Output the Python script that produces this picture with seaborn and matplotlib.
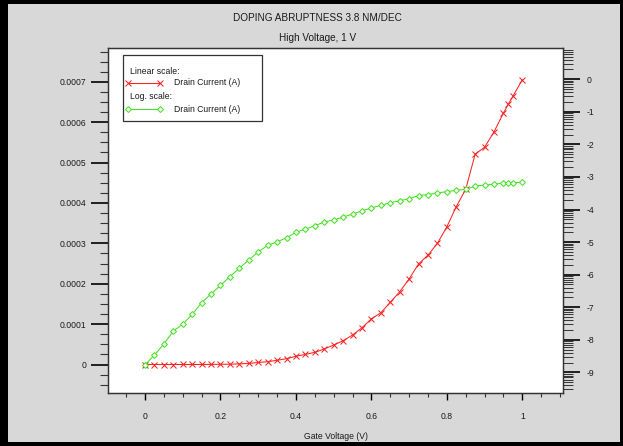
import numpy as np
import matplotlib
matplotlib.use("Agg")
import matplotlib.pyplot as plt
import matplotlib.ticker as mticker
from matplotlib.patches import Rectangle
from matplotlib.lines import Line2D
import seaborn as sns

# ---------------- data ----------------
title_1 = "DOPING ABRUPTNESS 3.8 NM/DEC"
title_2 = "High Voltage, 1 V"
x_label = "Gate Voltage (V)"
series_name = "Drain Current (A)"
linear_header = "Linear scale:"
log_header = "Log. scale:"

gate_v = [0, 0.025, 0.05, 0.075, 0.1, 0.125, 0.15, 0.175, 0.2, 0.225,
          0.25, 0.275, 0.3, 0.325, 0.35, 0.375, 0.4, 0.425, 0.45, 0.475,
          0.5, 0.525, 0.55, 0.575, 0.6, 0.625, 0.65, 0.675, 0.7, 0.725,
          0.75, 0.775, 0.8, 0.825, 0.85, 0.875, 0.9, 0.925, 0.95, 0.9625,
          0.975, 1.0]

# drain current, linear scale (A)
drain_linear = [1.7e-9, 3.4e-9, 7.4e-9, 1.9e-8, 3.0e-8, 6.0e-8, 1.4e-7, 2.6e-7, 4.7e-7, 8.7e-7,
                1.6e-6, 2.8e-6, 5.0e-6, 7.0e-6, 1.04e-5, 1.45e-5, 2.05e-5, 2.5e-5, 3.02e-5, 3.84e-5,
                4.83e-5, 5.89e-5, 7.3e-5, 9.11e-5, 1.13e-4, 1.28e-4, 1.54e-4, 1.80e-4, 2.12e-4, 2.49e-4,
                2.71e-4, 3.00e-4, 3.41e-4, 3.91e-4, 4.34e-4, 5.21e-4, 5.38e-4, 5.76e-4, 6.23e-4, 6.44e-4,
                6.64e-4, 7.05e-4]

# drain current, log scale (decade exponent, log10 A)
drain_log10 = [-8.77, -8.47, -8.13, -7.73, -7.52, -7.22, -6.86, -6.59, -6.33, -6.06,
               -5.80, -5.55, -5.30, -5.10, -4.99, -4.87, -4.70, -4.60, -4.50, -4.38,
               -4.32, -4.23, -4.14, -4.04, -3.95, -3.87, -3.79, -3.73, -3.67, -3.57,
               -3.54, -3.49, -3.45, -3.41, -3.38, -3.28, -3.25, -3.22, -3.19, -3.18,
               -3.18, -3.16]

x_ticks = [0, 0.2, 0.4, 0.6, 0.8, 1.0]
left_ticks = [0, 0.0001, 0.0002, 0.0003, 0.0004, 0.0005, 0.0006, 0.0007]
right_ticks = [0, -1, -2, -3, -4, -5, -6, -7, -8, -9]

# ---------------- style ----------------
sns.set_theme(style="white")
plt.rcParams["font.family"] = ["Liberation Sans", "DejaVu Sans"]
TEXT = "#1a1a1a"
RED = "#f52525"
GREEN = "#45e025"
BG = "#d8d8d8"

W, H = 623, 446
fig = plt.figure(figsize=(W / 100, H / 100), dpi=100)
fig.patch.set_facecolor("black")
fig.patches.append(Rectangle((8 / W, 4.3 / H), (619.5 - 8) / W, (441.7 - 4) / H,
                             transform=fig.transFigure, facecolor=BG, edgecolor="none", zorder=-10))

ax_l, ax_r, ax_t, ax_b = 108.3, 562.7, 48.3, 392.7
ax = fig.add_axes([ax_l / W, 1 - ax_b / H, (ax_r - ax_l) / W, (ax_b - ax_t) / H])
ax.set_facecolor("white")
ax2 = ax.twinx()

sns.lineplot(x=gate_v, y=drain_linear, ax=ax, color=RED, linewidth=0.75,
             marker="x", markersize=4.5, markeredgewidth=0.75, markeredgecolor=RED,
             estimator=None, sort=False, legend=False)
sns.lineplot(x=gate_v, y=[10.0 ** v for v in drain_log10], ax=ax2, color=GREEN, linewidth=0.75,
             marker="D", markersize=3.0, markeredgewidth=0.75, markeredgecolor=GREEN,
             markerfacecolor="white", estimator=None, sort=False, legend=False)

# x axis
ax.set_xlim(-0.0973, 1.107)
ax.set_xticks(x_ticks)
ax.xaxis.set_minor_locator(mticker.MultipleLocator(0.05))
ax.xaxis.set_major_formatter(mticker.FuncFormatter(lambda v, p: f"{v:g}"))
ax.tick_params(axis="x", which="major", direction="out", length=5, width=1, color="black",
               labelsize=6.2, labelcolor=TEXT, pad=9, bottom=True, top=False)
ax.tick_params(axis="x", which="minor", direction="out", length=3, width=0.8, color="#333333",
               bottom=True, top=False)
ax.set_xlabel(x_label, fontsize=6.2, color=TEXT, labelpad=8)

# left axis
ax.set_ylim(-0.0000698, 0.000783)
ax.set_yticks(left_ticks)
ax.yaxis.set_minor_locator(mticker.MultipleLocator(0.000025))
ax.yaxis.set_major_formatter(mticker.FuncFormatter(lambda v, p: "0" if abs(v) < 1e-12 else f"{v:.4f}"))
ax.tick_params(axis="y", which="major", direction="out", length=12, width=1.2, color="black",
               labelsize=6.2, labelcolor=TEXT, pad=4, left=True, right=False)
ax.tick_params(axis="y", which="minor", direction="out", length=6, width=0.8, color="#333333",
               left=True, right=False)
ax.set_ylabel("")

# right axis (log)
ax2.set_yscale("log")
ax2.set_ylim(10 ** -9.625, 10 ** 0.952)
ax2.yaxis.set_major_locator(mticker.FixedLocator([10.0 ** e for e in right_ticks]))
ax2.yaxis.set_major_formatter(mticker.FuncFormatter(lambda v, p: f"{int(round(np.log10(v)))}"))
ax2.yaxis.set_minor_locator(mticker.LogLocator(base=10, subs=np.arange(2, 10), numticks=100))
ax2.yaxis.set_minor_formatter(mticker.NullFormatter())
ax2.tick_params(axis="y", which="major", direction="out", length=12, width=1.2, color="black",
                labelsize=6.2, labelcolor=TEXT, pad=5, right=True, left=False)
ax2.tick_params(axis="y", which="minor", direction="out", length=7, width=0.7, color="#333333",
                right=True, left=False)
ax2.set_ylabel("")
ax2.grid(False)
ax.grid(False)

for a in (ax, ax2):
    for s in a.spines.values():
        s.set_color("#333333")
        s.set_linewidth(0.9)

# legend box (drawn in axes coordinates)
def fy(py):
    return 1 - (py - ax_t) / (ax_b - ax_t)
def fx(px):
    return (px - ax_l) / (ax_r - ax_l)

ax2.add_patch(Rectangle((fx(123.3), fy(120.7)), fx(261.7) - fx(123.3), fy(55) - fy(120.7),
                        transform=ax2.transAxes, facecolor="white", edgecolor="#333333",
                        linewidth=0.9, zorder=5))
ax2.text(fx(130), fy(71), linear_header, transform=ax2.transAxes, fontsize=6.2, color=TEXT,
         va="center", ha="left", zorder=6)
ax2.add_line(Line2D([fx(128.3), fx(160)], [fy(82.7), fy(82.7)], transform=ax2.transAxes,
                    color=RED, linewidth=0.75, marker="x", markersize=4.5, markeredgewidth=0.75, zorder=6))
ax2.text(fx(174), fy(82.7), series_name, transform=ax2.transAxes, fontsize=6.2, color=TEXT,
         va="center", ha="left", zorder=6)
ax2.text(fx(130), fy(96.7), log_header, transform=ax2.transAxes, fontsize=6.2, color=TEXT,
         va="center", ha="left", zorder=6)
ax2.add_line(Line2D([fx(128.3), fx(160)], [fy(109), fy(109)], transform=ax2.transAxes,
                    color=GREEN, linewidth=0.75, marker="D", markersize=3.0, markeredgewidth=0.75,
                    markerfacecolor="white", zorder=6))
ax2.text(fx(174), fy(109), series_name, transform=ax2.transAxes, fontsize=6.2, color=TEXT,
         va="center", ha="left", zorder=6)

# titles
fig.text(317.5 / W, 1 - 18 / H, title_1, ha="center", va="center", fontsize=7.2, color=TEXT)
fig.text(317.5 / W, 1 - 38 / H, title_2, ha="center", va="center", fontsize=7.2, color=TEXT)

fig.savefig("out.png", dpi=100, facecolor=fig.get_facecolor())
